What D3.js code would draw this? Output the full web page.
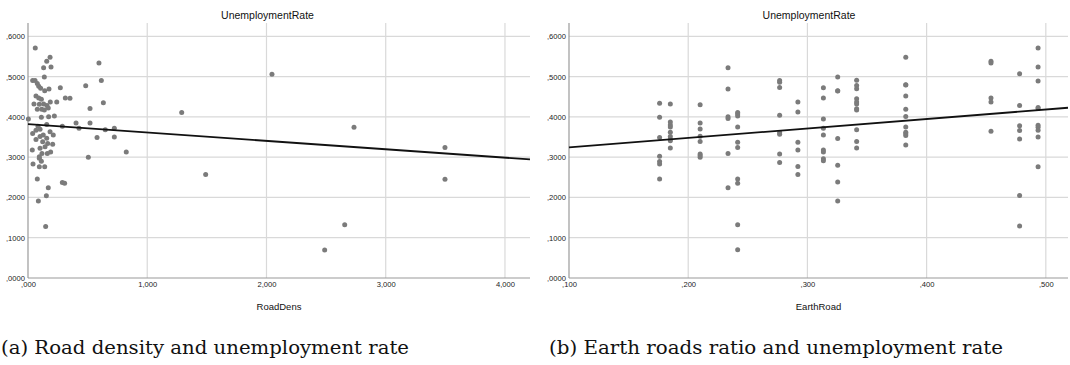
<!DOCTYPE html>
<html>
<head>
<meta charset="utf-8">
<script src="https://cdn.jsdelivr.net/npm/d3@7"></script>
<style>
  html, body { margin: 0; padding: 0; background: #fff; }
  svg { display: block; }
</style>
</head>
<body>
<svg id="chart" width="1070" height="365"></svg>
<script>
// Road density (RoadDens) vs unemployment rate
const roadDens = [
  2.046, 2.734, 3.497, 3.497, 2.656, 2.488, 1.289, 1.490, 0.824, 0.506,
  0.288, 0.307, 0.170, 0.154, 0.087, 0.078, 0.148, 0.042, 0.095, 0.140,
  0.112, 0.595, 0.615, 0.484, 0.271, 0.313, 0.352, 0.632, 0.520, 0.241,
  0.221, 0.403, 0.520, 0.288, 0.428, 0.648, 0.724, 0.579, 0.724,
  0.061, 0.185, 0.157, 0.131, 0.193, 0.137, 0.039, 0.059, 0.078, 0.090,
  0.106, 0.140, 0.176, 0.067, 0.090, 0.112, 0.050, 0.095, 0.131, 0.159,
  0.187, 0.078, 0.115, 0.137, 0.170, 0.112, 0.173, 0.003, 0.157, 0.084,
  0.039, 0.067, 0.101, 0.067, 0.101, 0.128, 0.185, 0.212, 0.157, 0.123,
  0.165, 0.207, 0.036, 0.101, 0.143, 0.190, 0.117, 0.162, 0.095, 0.095
];
const roadDensRate = [
  0.506, 0.374, 0.324, 0.245, 0.132, 0.0695, 0.411, 0.257, 0.313, 0.300,
  0.237, 0.235, 0.224, 0.204, 0.191, 0.246, 0.128, 0.283, 0.276, 0.276,
  0.290, 0.534, 0.490, 0.477, 0.472, 0.447, 0.446, 0.435, 0.421, 0.437,
  0.402, 0.385, 0.385, 0.377, 0.372, 0.368, 0.372, 0.349, 0.350,
  0.571, 0.548, 0.538, 0.522, 0.524, 0.499, 0.490, 0.490, 0.483, 0.476,
  0.471, 0.465, 0.469, 0.452, 0.447, 0.444, 0.432, 0.431, 0.432, 0.428,
  0.437, 0.419, 0.419, 0.417, 0.422, 0.399, 0.400, 0.395, 0.381, 0.377,
  0.359, 0.367, 0.369, 0.344, 0.351, 0.355, 0.363, 0.355, 0.347, 0.338,
  0.334, 0.332, 0.318, 0.322, 0.326, 0.313, 0.309, 0.309, 0.301, 0.297
];

// Earth roads ratio (EarthRoad) vs unemployment rate, grouped by ratio value
const earthRoadLevels = [0.176, 0.185, 0.210, 0.2334, 0.2415, 0.2767, 0.292,
  0.3134, 0.3254, 0.3413, 0.3825, 0.454, 0.478, 0.4935];
const earthRoadRates = [
  [0.4335, 0.399, 0.349, 0.302, 0.289, 0.283, 0.246],
  [0.432, 0.387, 0.380, 0.375, 0.362, 0.351, 0.344, 0.341, 0.323],
  [0.430, 0.385, 0.370, 0.352, 0.339, 0.308, 0.304, 0.300],
  [0.522, 0.469, 0.400, 0.396, 0.309, 0.224],
  [0.411, 0.407, 0.402, 0.375, 0.337, 0.324, 0.246, 0.235, 0.132, 0.070],
  [0.490, 0.486, 0.473, 0.404, 0.361, 0.357, 0.308, 0.287],
  [0.437, 0.412, 0.337, 0.318, 0.277, 0.257],
  [0.472, 0.447, 0.395, 0.372, 0.355, 0.318, 0.313, 0.296, 0.291],
  [0.499, 0.465, 0.464, 0.346, 0.280, 0.238, 0.191],
  [0.491, 0.478, 0.470, 0.445, 0.437, 0.432, 0.420, 0.417, 0.368, 0.339, 0.323],
  [0.548, 0.480, 0.479, 0.452, 0.419, 0.401, 0.375, 0.362, 0.358, 0.354, 0.330],
  [0.538, 0.534, 0.447, 0.437, 0.364],
  [0.507, 0.428, 0.378, 0.366, 0.345, 0.205, 0.129],
  [0.571, 0.524, 0.489, 0.423, 0.421, 0.379, 0.374, 0.367, 0.350, 0.276]
];

// Linear fit lines [intercept, slope]
const roadDensFit = [0.382, -0.0208];
const earthRoadFit = [0.3008, 0.2348];

// Tick values
const rateTicks = [0, 0.1, 0.2, 0.3, 0.4, 0.5, 0.6];
const roadDensTicks = [0, 1, 2, 3, 4];
const earthRoadTicks = [0.1, 0.2, 0.3, 0.4, 0.5];

const svg = d3.select("#chart");
svg.append("rect").attr("width", 1070).attr("height", 365).attr("fill", "#fff");

// Comma-decimal formatting with the leading zero dropped (",6000", "1,000")
function commaFmt(digits) {
  const f = d3.format("." + digits + "f");
  return v => {
    let s = f(v).replace(".", ",");
    if (s.startsWith("0,")) s = s.slice(1);
    return s;
  };
}

function panel(opts) {
  const { left, right, top, bottom, xDomain, xTicks, xFmt, points, fit,
          title, titleX, xLabel, caption, captionX, captionLen } = opts;
  const x = d3.scaleLinear().domain(xDomain).range([left, right]);
  const y = d3.scaleLinear().domain([0, 0.633]).range([bottom, top]);
  const g = svg.append("g");

  // grid
  g.append("g").selectAll("line").data(rateTicks.filter(d => d > 0)).join("line")
    .attr("x1", left).attr("x2", right)
    .attr("y1", d => y(d)).attr("y2", d => y(d))
    .attr("stroke", "#d9d9d9").attr("stroke-width", 1.2);
  g.append("g").selectAll("line").data(xTicks.filter(d => d > xDomain[0])).join("line")
    .attr("x1", d => x(d)).attr("x2", d => x(d))
    .attr("y1", top).attr("y2", bottom)
    .attr("stroke", "#d9d9d9").attr("stroke-width", 1.2);

  // axes
  const ya = d3.axisLeft(y).tickValues(rateTicks).tickFormat(commaFmt(4)).tickSize(0).tickPadding(3);
  const yg = g.append("g").attr("transform", `translate(${left},0)`).call(ya);
  const xa = d3.axisBottom(x).tickValues(xTicks).tickFormat(xFmt).tickSize(0).tickPadding(4);
  const xg = g.append("g").attr("transform", `translate(0,${bottom})`).call(xa);
  [yg, xg].forEach(a => {
    a.select(".domain").remove();
    a.selectAll("text").attr("font-family", "Liberation Sans, Arial, sans-serif")
      .attr("font-size", 7.6).attr("fill", "#222");
  });
  g.append("line").attr("x1", left).attr("x2", left).attr("y1", top).attr("y2", bottom)
    .attr("stroke", "#9a9a9a").attr("stroke-width", 1.2);
  g.append("line").attr("x1", left).attr("x2", right).attr("y1", bottom).attr("y2", bottom)
    .attr("stroke", "#9a9a9a").attr("stroke-width", 1.2);

  // points
  g.append("g").selectAll("circle").data(points).join("circle")
    .attr("cx", d => x(d[0])).attr("cy", d => y(d[1])).attr("r", 2.5)
    .attr("fill", "#7b7b7b");

  // fit line
  const line = d3.line().x(d => x(d)).y(d => y(fit[0] + fit[1] * d));
  g.append("path").datum(xDomain).attr("d", line)
    .attr("fill", "none").attr("stroke", "#111").attr("stroke-width", 1.8);

  // labels
  g.append("text").attr("x", titleX).attr("y", 19).attr("text-anchor", "middle")
    .attr("font-family", "Liberation Sans, Arial, sans-serif").attr("font-size", 10.5)
    .attr("fill", "#111").text(title);
  g.append("text").attr("x", (left + right) / 2).attr("y", 310).attr("text-anchor", "middle")
    .attr("font-family", "Liberation Sans, Arial, sans-serif").attr("font-size", 9.5)
    .attr("fill", "#111").text(xLabel);
  g.append("text").attr("x", captionX).attr("y", 354)
    .attr("font-family", "DejaVu Serif, serif").attr("font-size", 19)
    .attr("textLength", captionLen).attr("lengthAdjust", "spacingAndGlyphs")
    .attr("fill", "#111").text(caption);
}

panel({
  left: 28, right: 530, top: 23, bottom: 278,
  xDomain: [0, 4.21], xTicks: roadDensTicks, xFmt: commaFmt(3),
  points: roadDens.map((v, i) => [v, roadDensRate[i]]),
  fit: roadDensFit,
  title: "UnemploymentRate", titleX: 267.5, xLabel: "RoadDens",
  caption: "(a) Road density and unemployment rate", captionX: 1, captionLen: 408
});

panel({
  left: 569, right: 1068, top: 23, bottom: 278,
  xDomain: [0.1, 0.5186], xTicks: earthRoadTicks, xFmt: commaFmt(3),
  points: earthRoadLevels.flatMap((v, i) => earthRoadRates[i].map(r => [v, r])),
  fit: earthRoadFit,
  title: "UnemploymentRate", titleX: 809, xLabel: "EarthRoad",
  caption: "(b) Earth roads ratio and unemployment rate", captionX: 549, captionLen: 454
});
</script>
</body>
</html>
